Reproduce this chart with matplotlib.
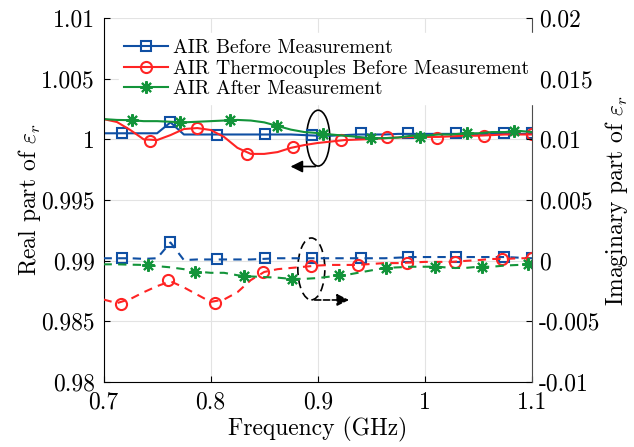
import numpy as np
import matplotlib
matplotlib.use('Agg')
import matplotlib.pyplot as plt
from matplotlib.patches import Ellipse

plt.rcParams['font.family'] = 'serif'
plt.rcParams['font.serif'] = ['cmr10']
plt.rcParams['mathtext.fontset'] = 'cm'
plt.rcParams['axes.unicode_minus'] = False
plt.rcParams['axes.formatter.use_mathtext'] = True

# frequency grid of the traces (GHz)
freq = np.linspace(0.7, 1.1, 33)

# real part (left axis)
real_before = [1.0005, 1.0005, 1.0005, 1.0005, 1.0005, 1.0014, 1.0004, 1.0004, 1.0004, 1.0004, 1.0004,
               1.0004, 1.0004, 1.0004, 1.0004, 1.00035, 1.0003, 1.0003, 1.00035, 1.0004, 1.0004, 1.0004,
               1.00045, 1.00045, 1.00045, 1.00045, 1.00045, 1.00045, 1.00045, 1.00045, 1.00045, 1.00045, 1.00045]
real_thermo = [1.00167, 1.00143, 1.00077, 1.0, 0.99994, 1.00035, 1.00085, 1.00093, 1.00077, 1.0002, 0.9993,
               0.9988, 0.9988, 0.99895, 0.9993, 0.99953, 0.9997, 0.99982, 0.99994, 0.99998, 1.00002, 1.0001,
               1.00015, 1.0002, 1.0002, 1.0002, 1.00025, 1.0003, 1.0003, 1.00035, 1.0004, 1.0004, 1.0004]
real_after = [1.00167, 1.0016, 1.00158, 1.0015, 1.0015, 1.00145, 1.0014, 1.00145, 1.0015, 1.00155, 1.0016,
              1.00155, 1.0014, 1.0011, 1.0008, 1.0006, 1.00052, 1.0004, 1.0003, 1.0002, 1.0001, 1.0001,
              1.00015, 1.0003, 1.0003, 1.0004, 1.0004, 1.0005, 1.0005, 1.0006, 1.0006, 1.0007, 1.0006]

# imaginary part (right axis)
imag_before = [0.0002, 0.0002, 0.0002, 0.00015, 0.0002, 0.0015, 0.00005, 0.0001, 0.0001, 0.0001, 0.0001,
               0.0001, 0.00015, 0.0002, 0.0002, 0.0002, 0.0002, 0.0002, 0.0002, 0.0002, 0.0002, 0.0002,
               0.00025, 0.0003, 0.0003, 0.0003, 0.0003, 0.0003, 0.0003, 0.0003, 0.0003, 0.00025, 0.0002]
imag_thermo = [-0.0032, -0.0035, -0.00316, -0.0026, -0.0021, -0.0017, -0.0022, -0.0028, -0.0034, -0.0032,
               -0.0026, -0.0016, -0.00093, -0.0007, -0.0006, -0.0005, -0.0004, -0.00035, -0.00035, -0.00035,
               -0.00027, -0.0002, -0.0002, -0.00015, -0.0001, -0.0001, -0.0001, -0.00002, 0.00005, 0.00014,
               0.00014, 0.0002, 0.0002]
imag_after = [-0.0003, -0.0003, -0.00033, -0.00035, -0.00045, -0.00055, -0.0007, -0.0009, -0.001, -0.001,
              -0.0012, -0.0013, -0.00135, -0.0014, -0.0015, -0.0015, -0.00143, -0.0013, -0.0012, -0.001,
              -0.0008, -0.0006, -0.00055, -0.0005, -0.0005, -0.0005, -0.0006, -0.0006, -0.0005, -0.0005,
              -0.0004, -0.00035, -0.0003]

# marker samples
mk_f_before = [0.717, 0.762, 0.806, 0.851, 0.895, 0.940, 0.984, 1.029, 1.074, 1.1]
mk_real_before = [1.0005, 1.0014, 1.00035, 1.0004, 1.00035, 1.0005, 1.0005, 1.0005, 1.0005, 1.0005]
mk_imag_before = [0.0002, 0.0015, 0.0001, 0.0002, 0.0002, 0.0002, 0.0003, 0.0003, 0.0003, 0.0002]

mk_f_thermo = [0.743, 0.787, 0.834, 0.877, 0.922, 0.965, 1.011, 1.055, 1.1]
mk_real_thermo = [0.99986, 1.00093, 0.9988, 0.99937, 0.99994, 1.0002, 1.00015, 1.0003, 1.0004]
mk_f_thermo_i = [0.716, 0.760, 0.804, 0.849, 0.894, 0.938, 0.983, 1.028, 1.072, 1.1]
mk_imag_thermo = [-0.00357, -0.00159, -0.0035, -0.00093, -0.00044, -0.00035, -0.0002, -0.0001, 0.00014, 0.0002]

mk_f_after = [0.727, 0.771, 0.818, 0.862, 0.905, 0.950, 0.995, 1.039, 1.083]
mk_real_after = [1.0016, 1.0014, 1.0016, 1.0011, 1.00045, 1.0001, 1.00016, 1.0005, 1.0007]
mk_f_after_i = [0.7415, 0.785, 0.831, 0.876, 0.920, 0.9635, 1.009, 1.053, 1.096]
mk_imag_after = [-0.00035, -0.00093, -0.00126, -0.0015, -0.0012, -0.0006, -0.0005, -0.0005, -0.00027]

labels = ['AIR Before Measurement', 'AIR Thermocouples Before Measurement', 'AIR After Measurement']

blue = '#0f4fa3'
red = '#ff2424'
green = '#13943a'
lw = 1.5
dash = (0, (4, 3))
fs = 17

fig = plt.figure(figsize=(6.34, 4.47), dpi=100)
ax = fig.add_axes([0.1633, 0.1454, 0.6758, 0.8143])
ax2 = ax.twinx()

# real part, solid
l1, = ax.plot(freq, real_before, color=blue, lw=lw)
m1, = ax.plot(mk_f_before, mk_real_before, ls='none', marker='s', ms=7, mfc='none', mec=blue, mew=1.5)
l2, = ax.plot(freq, real_thermo, color=red, lw=lw)
m2, = ax.plot(mk_f_thermo, mk_real_thermo, ls='none', marker='o', ms=8, mfc='none', mec=red, mew=1.5)
l3, = ax.plot(freq, real_after, color=green, lw=lw)
m3, = ax.plot(mk_f_after, mk_real_after, ls='none', marker=(8, 2, 0), ms=9, mec=green, mew=1.5)

# imaginary part, dashed
ax2.plot(freq, imag_before, color=blue, lw=lw, ls=dash)
ax2.plot(mk_f_before, mk_imag_before, ls='none', marker='s', ms=7, mfc='none', mec=blue, mew=1.5)
ax2.plot(freq, imag_thermo, color=red, lw=lw, ls=dash)
ax2.plot(mk_f_thermo_i, mk_imag_thermo, ls='none', marker='o', ms=8, mfc='none', mec=red, mew=1.5)
ax2.plot(freq, imag_after, color=green, lw=lw, ls=dash)
ax2.plot(mk_f_after_i, mk_imag_after, ls='none', marker=(8, 2, 0), ms=9, mec=green, mew=1.5)

ax.set_xlim(0.7, 1.1)
ax.set_ylim(0.98, 1.01)
ax2.set_ylim(-0.01, 0.02)

ax.set_xticks([0.7, 0.8, 0.9, 1.0, 1.1])
ax.set_xticklabels(['0.7', '0.8', '0.9', '1', '1.1'])
ax.set_yticks([0.98, 0.985, 0.99, 0.995, 1.0, 1.005, 1.01])
ax.set_yticklabels(['0.98', '0.985', '0.99', '0.995', '1', '1.005', '1.01'])
ax2.set_yticks([-0.01, -0.005, 0, 0.005, 0.01, 0.015, 0.02])
ax2.set_yticklabels(['-0.01', '-0.005', '0', '0.005', '0.01', '0.015', '0.02'])

ax.grid(True, color='#e3e3e3', lw=0.8)
ax.set_axisbelow(True)
for a in (ax, ax2):
    a.tick_params(direction='in', length=4, labelsize=fs, width=0.8)
    a.spines['top'].set_visible(False)
ax.tick_params(axis='x', pad=7)
ax.tick_params(axis='y', pad=6)
ax2.tick_params(axis='y', pad=5)
ax.spines['right'].set_visible(False)
ax2.spines['left'].set_visible(False)
ax2.spines['bottom'].set_visible(False)
ax2.spines['right'].set_color('#4d4d4d')

ax.set_xlabel('Frequency (GHz)', fontsize=fs, labelpad=2)
ax.set_ylabel(r'Real part of $\varepsilon_r$', fontsize=fs, labelpad=-1)
ax2.set_ylabel(r'Imaginary part of $\varepsilon_r$', fontsize=fs, labelpad=2)

# annotation ellipses with arrows
ax.add_patch(Ellipse((0.9004, 1.0001), 0.0217, 0.0046, fill=False, ec='black', lw=1.2))
ax.annotate('', xy=(0.872, 0.99776), xytext=(0.9004, 0.99776),
            arrowprops=dict(arrowstyle='-|>', color='black', lw=1.2, mutation_scale=18))
ax.add_patch(Ellipse((0.894, 0.98932), 0.0252, 0.0051, fill=False, ec='black', lw=1.2, ls=(0, (5, 3))))
ax.annotate('', xy=(0.9318, 0.98676), xytext=(0.8945, 0.98676),
            arrowprops=dict(arrowstyle='-|>', color='black', lw=1.2, ls='--', mutation_scale=18))

leg = ax2.legend([(l1, m1), (l2, m2), (l3, m3)], labels, loc='upper left',
                 bbox_to_anchor=(0.012, 0.985), fontsize=14.2, frameon=True, fancybox=False,
                 edgecolor='white', framealpha=1, handlelength=2.2, handletextpad=0.25,
                 labelspacing=0.12, borderpad=0.3)

fig.savefig('out.png', dpi=100)
